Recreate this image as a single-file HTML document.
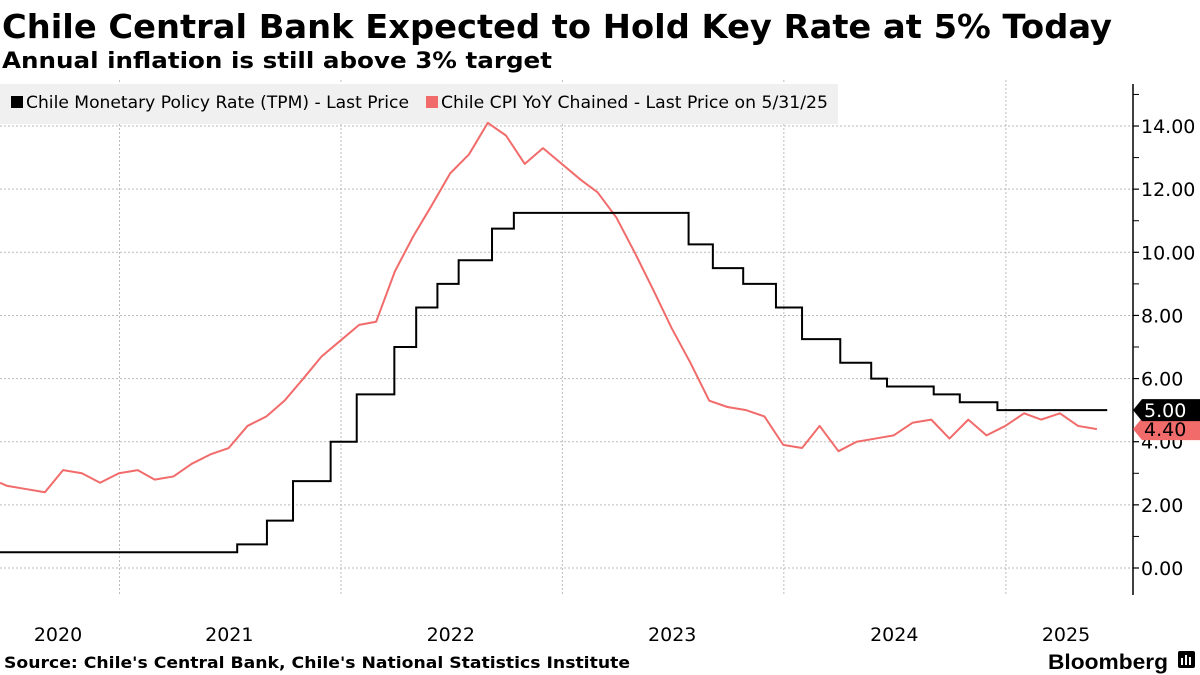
<!DOCTYPE html>
<html><head><meta charset="utf-8">
<style>
html,body{margin:0;padding:0;background:#fff;}
svg{display:block;font-family:"DejaVu Sans","Liberation Sans",sans-serif;}
</style></head>
<body>
<svg id="chart" width="1200" height="675" viewBox="0 0 1200 675" xmlns="http://www.w3.org/2000/svg">
<rect width="1200" height="675" fill="#fff"/>
<text x="2" y="38" font-size="33" font-weight="bold" textLength="1110" lengthAdjust="spacingAndGlyphs">Chile Central Bank Expected to Hold Key Rate at 5% Today</text>
<text x="2" y="68" font-size="22" font-weight="bold" textLength="550" lengthAdjust="spacingAndGlyphs">Annual inflation is still above 3% target</text>
<g id="grid"></g>
<rect x="0" y="84" width="838" height="40" fill="#f0f0f0"/>
<g>
<rect x="11" y="96" width="12" height="12" fill="#000"/>
<text x="26" y="108" font-size="17" textLength="383" lengthAdjust="spacingAndGlyphs">Chile Monetary Policy Rate (TPM) - Last Price</text>
</g>
<g>
<rect x="426" y="96" width="12" height="12" fill="#f26b6b"/>
<text x="441" y="108" font-size="17" textLength="387" lengthAdjust="spacingAndGlyphs">Chile CPI YoY Chained - Last Price on 5/31/25</text>
</g>
<g id="series"></g>
<g id="axes"></g>
<text x="4" y="668" font-size="16" font-weight="bold" textLength="626" lengthAdjust="spacingAndGlyphs">Source: Chile's Central Bank, Chile's National Statistics Institute</text>
<text x="1048" y="669" font-size="21" font-weight="bold" font-family="Liberation Sans, sans-serif" textLength="120" lengthAdjust="spacingAndGlyphs">Bloomberg</text>
<g>
<rect x="1178" y="651" width="17" height="17" rx="2" fill="#000"/>
<rect x="1181" y="658" width="2" height="7" fill="#fff"/><rect x="1185" y="655" width="2" height="10" fill="#fff"/><rect x="1189" y="657" width="2" height="8" fill="#fff"/>
</g>
</svg>
<script>
const yTicks = [0, 2, 4, 6, 8, 10, 12, 14];
const yTickLabels = ["0.00","2.00","4.00","6.00","8.00","10.00","12.00","14.00"];
const yearLabels = ["2020","2021","2022","2023","2024","2025"];
const cpiMonths = ["2020-06","2020-07","2020-08","2020-09","2020-10","2020-11","2020-12",
"2021-01","2021-02","2021-03","2021-04","2021-05","2021-06","2021-07","2021-08","2021-09","2021-10","2021-11","2021-12",
"2022-01","2022-02","2022-03","2022-04","2022-05","2022-06","2022-07","2022-08","2022-09","2022-10","2022-11","2022-12",
"2023-01","2023-02","2023-03","2023-04","2023-05","2023-06","2023-07","2023-08","2023-09","2023-10","2023-11","2023-12",
"2024-01","2024-02","2024-03","2024-04","2024-05","2024-06","2024-07","2024-08","2024-09","2024-10","2024-11","2024-12",
"2025-01","2025-02","2025-03","2025-04","2025-05"];
const cpiValues = [2.6,2.5,2.4,3.1,3.0,2.7,3.0,3.1,2.8,2.9,3.3,3.6,3.8,4.5,4.8,5.3,6.0,6.7,7.2,7.7,7.8,9.4,10.5,11.5,12.5,13.1,14.1,13.7,12.8,13.3,12.8,12.3,11.9,11.1,10.0,8.8,7.6,6.5,5.3,5.1,5.0,4.8,3.9,3.8,4.5,3.7,4.0,4.1,4.2,4.6,4.7,4.1,4.7,4.2,4.5,4.9,4.7,4.9,4.5,4.4];
const cpiFirstValue = 2.7;
const rateDates = ["2020-06-17","2021-07-14","2021-09-01","2021-10-14","2021-12-15","2022-01-27","2022-03-30","2022-05-05","2022-06-09","2022-07-14","2022-09-07","2022-10-13","2023-07-28","2023-09-06","2023-10-26","2023-12-19","2024-01-31","2024-04-03","2024-05-24","2024-06-19","2024-09-04","2024-10-17","2024-12-18"];
const rateValues = [0.5,0.75,1.5,2.75,4.0,5.5,7.0,8.25,9.0,9.75,10.75,11.25,10.25,9.5,9.0,8.25,7.25,6.5,6.0,5.75,5.5,5.25,5.0];
const rateEndDate = "2025-06-17";
const lastRate = "5.00";
const lastCpi = "4.40";

const NS = "http://www.w3.org/2000/svg";
const X0 = 119.5, YEARPX = 221.6, T0 = Date.UTC(2021,0,1);
function xOf(d){ return X0 + (d - T0) / (365.25*864e5) * YEARPX; }
function xDate(s){ const p=s.split("-").map(Number); return xOf(Date.UTC(p[0],p[1]-1,p[2])); }
function xMonthEnd(s){ const p=s.split("-").map(Number); return xOf(Date.UTC(p[0],p[1],0)); }
function yOf(v){ return 568 - v * 31.57; }
function mk(tag, attrs, parent){ const e=document.createElementNS(NS,tag); for(const k in attrs) e.setAttribute(k, attrs[k]); parent.appendChild(e); return e; }

const grid = document.getElementById("grid");
const axes = document.getElementById("axes");
const series = document.getElementById("series");

yTicks.forEach((v,i)=>{
  const l = mk("line",{x1:0,x2:1133,y1:yOf(v),y2:yOf(v),stroke:"#bbb","stroke-width":1,"stroke-dasharray":"2,2"},grid);
  
  
  const t = mk("line",{x1:1133,x2:1139,y1:yOf(v),y2:yOf(v),stroke:"#000","stroke-width":1.2},axes);
  
  
  const tm = mk("line",{x1:1133,x2:1139,y1:yOf(v+1),y2:yOf(v+1),stroke:"#000","stroke-width":1},axes);
  
  
  const tx = mk("text",{x:1141,y:yOf(v)+7,"font-size":19},axes);
  tx.textContent = yTickLabels[i];
  
  
});
yearLabels.forEach((yr,i)=>{
  const y = Number(yr);
  const xg = xOf(Date.UTC(y,0,1));
  if (xg > 0) {
    const g = mk("line",{x1:xg,x2:xg,y1:80,y2:595,stroke:"#bbb","stroke-width":1,"stroke-dasharray":"2,2"},grid);
    
    
  }
  const xc = Math.max(58, Math.min(1066, xOf(Date.UTC(y,6,1))));
  const t = mk("text",{x:xc,y:641,"font-size":19,"text-anchor":"middle"},axes);
  t.textContent = yr;
  
  
});
const ax = mk("line",{x1:1133,x2:1133,y1:84,y2:595,stroke:"#000","stroke-width":1.5},axes);



// CPI line
let pts = [[0, yOf(cpiFirstValue)]];
cpiMonths.forEach((m,i)=>pts.push([xMonthEnd(m), yOf(cpiValues[i])]));
const cpi = mk("polyline",{points:pts.map(p=>p.join(",")).join(" "),fill:"none",stroke:"#f26b6b","stroke-width":2,"stroke-linejoin":"round"},series);



// Policy rate step line
let sp = [];
rateDates.forEach((d,i)=>{
  const x = Math.max(0, xDate(d));
  if (i>0) sp.push([x, yOf(rateValues[i-1])]);
  sp.push([x, yOf(rateValues[i])]);
});
sp.push([xDate(rateEndDate), yOf(rateValues[rateValues.length-1])]);
const rate = mk("polyline",{points:sp.map(p=>p.join(",")).join(" "),fill:"none",stroke:"#000","stroke-width":2},series);



// Last value tags
function tag(val, fill, txtFill, name){
  const y = yOf(Number(val));
  const g = mk("g",{},axes);
  
  
  mk("polygon",{points:`1133,${y} 1142,${y-11} 1200,${y-11} 1200,${y+11} 1142,${y+11}`,fill:fill},g);
  const t = mk("text",{x:1144,y:y+7,"font-size":19,fill:txtFill},g);
  t.textContent = val;
}
tag(lastCpi, "#f26b6b", "#000", "cpi-last-value-tag");
tag(lastRate, "#000", "#fff", "rate-last-value-tag");
</script>
</body></html>
